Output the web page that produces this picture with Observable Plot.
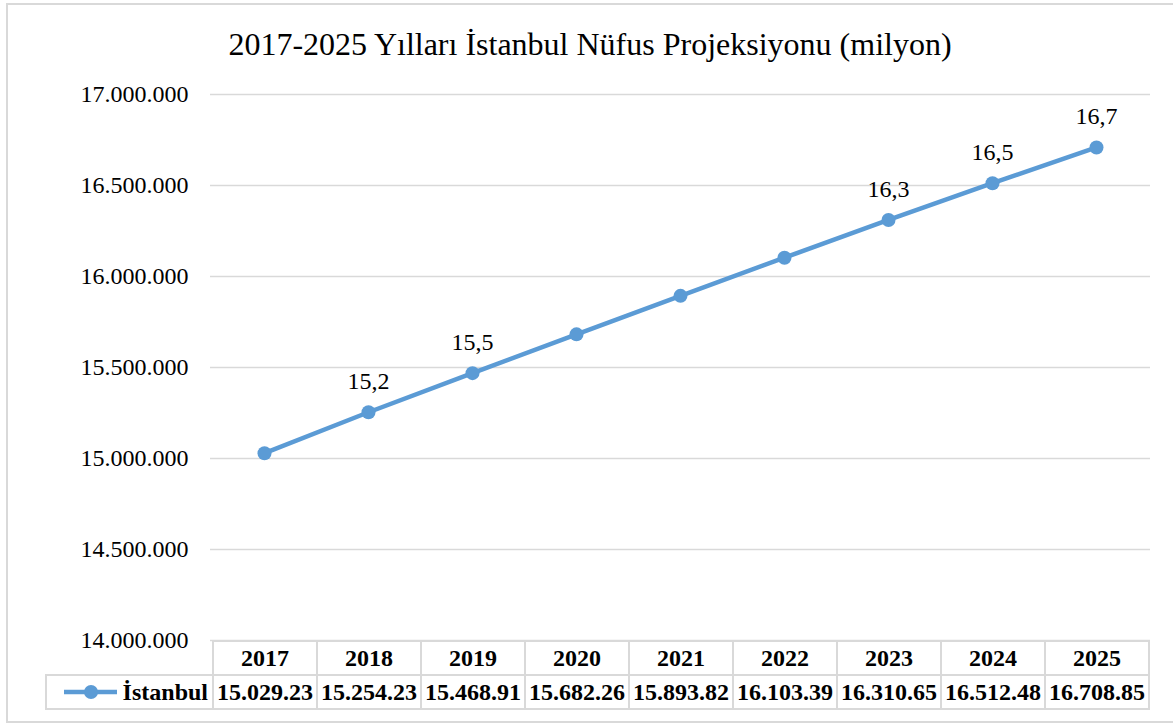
<!DOCTYPE html>
<html><head><meta charset="utf-8">
<script src="https://cdn.jsdelivr.net/npm/d3@7"></script>
<script src="https://cdn.jsdelivr.net/npm/@observablehq/plot@0.6"></script>
<style>
body{margin:0;background:#fff;}
#wrap{position:relative;width:1173px;height:724px;overflow:hidden;font-family:"Liberation Serif","Times New Roman",serif;color:#000;}
#frame{position:absolute;left:6px;top:3px;width:1190px;height:720px;border:2px solid #d9d9d9;box-sizing:border-box;}
#title{position:absolute;left:0;width:1180px;top:26px;text-align:center;font-size:32px;line-height:36px;}
#chart{position:absolute;left:0;top:0;}
.cell{position:absolute;box-sizing:border-box;border:2px solid #d9d9d9;font-weight:bold;font-size:24px;display:flex;align-items:center;justify-content:center;white-space:nowrap;}
</style></head>
<body><div id="wrap"><div id="frame"></div><div id="title">2017-2025 Yılları İstanbul Nüfus Projeksiyonu (milyon)</div><div id="chart"></div><div id="table"></div></div>
<script>
const years = ["2017","2018","2019","2020","2021","2022","2023","2024","2025"];
const population = [15029230, 15254230, 15468910, 15682260, 15893820, 16103390, 16310650, 16512480, 16708850];
const pointLabels = ["", "15,2", "15,5", "", "", "", "16,3", "16,5", "16,7"];
const tableLabels = ["15.029.23","15.254.23","15.468.91","15.682.26","15.893.82","16.103.39","16.310.65","16.512.48","16.708.85"];
const yTicks = [14000000, 14500000, 15000000, 15500000, 16000000, 16500000, 17000000];
const seriesName = "İstanbul";
const lineColor = "#5b9bd5";

const data = years.map((year, i) => ({year, value: population[i], label: pointLabels[i]}));
const fmt = d => d3.format(",")(d).replace(/,/g, ".");

const plot = Plot.plot({
  width: 1173, height: 724,
  marginLeft: 210, marginRight: 23, marginTop: 94, marginBottom: 84,
  style: {fontFamily: "'Liberation Serif', 'Times New Roman', serif", fontSize: "24px", color: "#000", background: "transparent"},
  x: {type: "point", domain: years, padding: 0.5, axis: null},
  y: {domain: [14000000, 17000000], axis: null},
  marks: [
    Plot.gridY(yTicks, {stroke: "#d9d9d9", strokeOpacity: 1, strokeWidth: 1.6}),
    Plot.axisY(yTicks, {tickSize: 0, tickPadding: 22, tickFormat: fmt, fontSize: 24, fill: "#000", label: null}),
    Plot.line(data, {x: "year", y: "value", stroke: lineColor, strokeWidth: 4.5}),
    Plot.dot(data, {x: "year", y: "value", r: 7, fill: lineColor, stroke: "none"}),
    Plot.text(data.filter(d => d.label), {x: "year", y: "value", text: "label", dy: -31, fontSize: 24, fill: "#000"})
  ]
});
document.getElementById("chart").appendChild(plot);

// data table aligned to the x scale
const xs = plot.scale("x");
const ys = plot.scale("y");
const centers = years.map(y => xs.apply(y));
const step = centers[1] - centers[0];
const top0 = Math.round(ys.apply(14000000));
const rowH = 34;
const table = document.getElementById("table");
function cell(left, top, w, h, html) {
  const d = document.createElement("div");
  d.className = "cell";
  d.style.left = left + "px"; d.style.top = top + "px";
  d.style.width = w + "px"; d.style.height = h + "px";
  d.innerHTML = html;
  table.appendChild(d);
  return d;
}
years.forEach((y, i) => {
  const left = Math.round(centers[i] - step / 2);
  const right = Math.round(centers[i] + step / 2);
  cell(left, top0, right - left + 2, rowH + 2, y);
  cell(left, top0 + rowH, right - left + 2, rowH + 2, tableLabels[i]);
});
const legendLeft = 45;
const firstLeft = Math.round(centers[0] - step / 2);
const lc = cell(legendLeft, top0 + rowH, firstLeft - legendLeft + 2, rowH + 2,
  `<svg width="53" height="20" style="margin-right:6px"><line x1="0" y1="10" x2="53" y2="10" stroke="${lineColor}" stroke-width="4.5"/><circle cx="27" cy="10" r="7" fill="${lineColor}"/></svg>${seriesName}`);
lc.style.justifyContent = "flex-end";
lc.style.paddingRight = "4px";
</script>
</body></html>
